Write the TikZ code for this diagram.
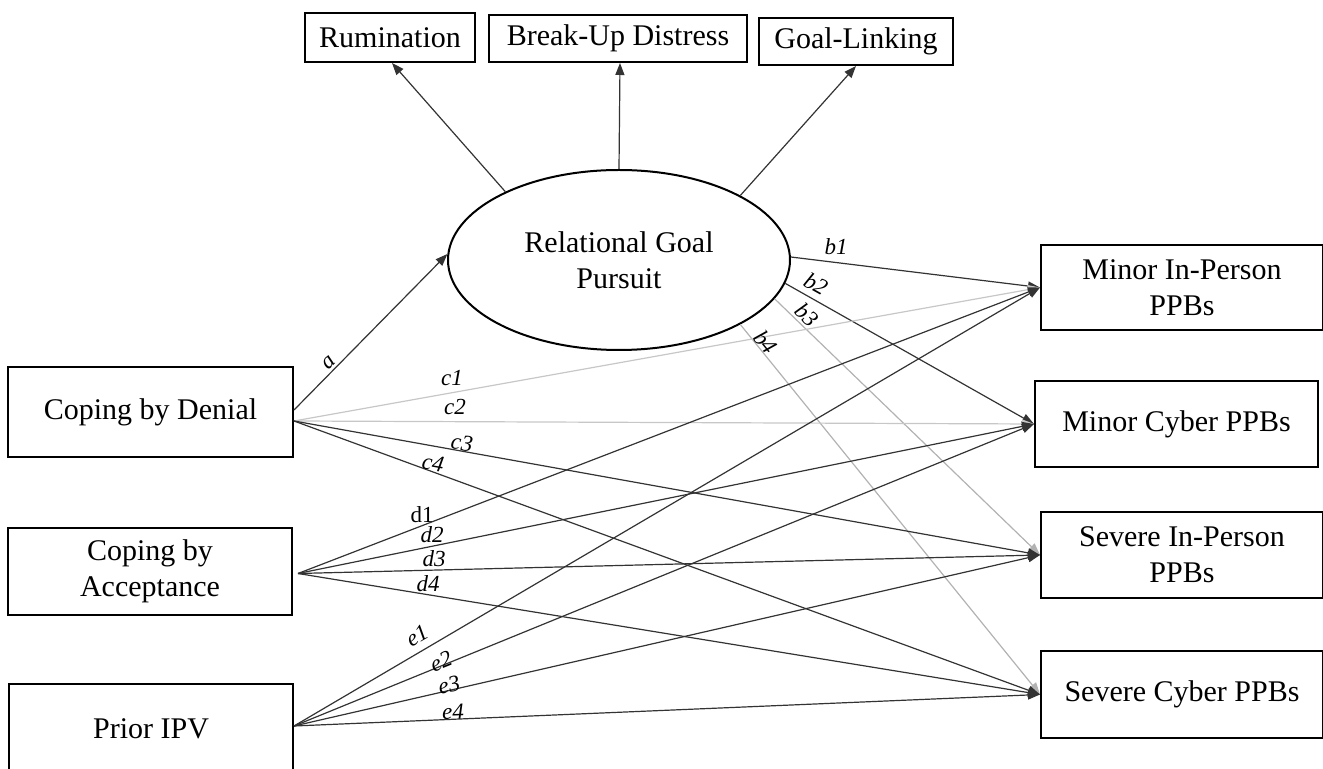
\documentclass[tikz,border=0pt]{standalone}
\usepackage{fontspec}
\setmainfont{Liberation Serif}
\usetikzlibrary{arrows.meta,shapes.geometric,calc}
\begin{document}
\begin{tikzpicture}[x=0.5pt,y=-0.5pt,
  box/.style={draw, line width=1pt, inner sep=0pt, align=center, font=\fontsize{15}{18}\selectfont},
  lbl/.style={font=\fontsize{11.5}{11.5}\selectfont\itshape, inner sep=0pt},
  lblu/.style={font=\fontsize{11.5}{11.5}\selectfont, inner sep=0pt},
  conn/.style={-{Triangle[length=6pt,width=4.5pt]}, line width=0.6pt, draw=black!80},
  gconn/.style={conn, draw=black!30},
  lconn/.style={conn, draw=black!22}]
\useasboundingbox (0,0) rectangle (1323,769);
% top indicator boxes
\node[box, minimum width=85pt, minimum height=24.5pt] (rum) at (390,37.5) {Rumination};
\node[box, minimum width=129pt, minimum height=23.5pt] (bud) at (618,38.5) {Break-Up Distress};
\node[box, minimum width=97pt, minimum height=23.5pt] (gl) at (856,41.5) {Goal-Linking};
% latent
\node[box, ellipse, minimum width=171pt, minimum height=90pt] (rgp) at (619,260) {Relational Goal\\Pursuit};
% predictors
\node[box, minimum width=142.5pt, minimum height=45pt] (den) at (150.5,412) {Coping by Denial};
\node[box, minimum width=142pt, minimum height=43.5pt] (acc) at (150,571.5) {Coping by\\Acceptance};
\node[box, minimum width=142pt, minimum height=45pt] (ipv) at (151,729) {Prior IPV};
% outcomes
\node[box, minimum width=141pt, minimum height=42.5pt] (mip) at (1182,287.5) {Minor In-Person\\PPBs};
\node[box, minimum width=141.5pt, minimum height=43pt] (mcy) at (1176.5,424) {Minor Cyber PPBs};
\node[box, minimum width=141pt, minimum height=43pt] (sip) at (1182,555) {Severe In-Person\\PPBs};
\node[box, minimum width=141pt, minimum height=43.5pt] (scy) at (1182,694.5) {Severe Cyber PPBs};
% measurement arrows
\draw[conn] (rgp.149) -- ($(rum.south)+(2,0)$);
\draw[conn] (rgp.north) -- ($(bud.south)+(2,0)$);
\draw[conn] (rgp.28) -- (gl.south);
% a path
\draw[conn] ($(den.east)+(0,-2)$) -- (rgp.178);
% b paths
\draw[conn] (rgp.1) -- (mip.west);
\draw[conn] (rgp.-8) -- (mcy.west);
\draw[gconn] (rgp.-14) -- (sip.west);
\draw[gconn] (rgp.-28) -- (scy.west);
% c paths
\draw[lconn] ($(den.east)+(0,9)$) -- (mip.west);
\draw[lconn] ($(den.east)+(0,9)$) -- (mcy.west);
\draw[conn] ($(den.east)+(0,9)$) -- (sip.west);
\draw[conn] ($(den.east)+(0,9)$) -- (scy.west);
% d paths
\draw[conn] ($(acc.east)+(5,2)$) -- (mip.west);
\draw[conn] ($(acc.east)+(5,2)$) -- (mcy.west);
\draw[conn] ($(acc.east)+(5,2)$) -- (sip.west);
\draw[conn] ($(acc.east)+(5,2)$) -- (scy.west);
% e paths
\draw[conn] ($(ipv.east)+(0,-3)$) -- (mip.west);
\draw[conn] ($(ipv.east)+(0,-3)$) -- (mcy.west);
\draw[conn] ($(ipv.east)+(0,-3)$) -- (sip.west);
\draw[conn] ($(ipv.east)+(0,-3)$) -- (scy.west);
% labels
\node[lbl, rotate=44] (la) at (329,363) {a};
\node[lbl] (lb1) at (836,247) {b1};
\node[lbl, rotate=-29] (lb2) at (816,284) {b2};
\node[lbl, rotate=-44] (lb3) at (807,315) {b3};
\node[lbl, rotate=-51] (lb4) at (766,342) {b4};
\node[lbl] (lc1) at (452,378) {c1};
\node[lbl] (lc2) at (455,407) {c2};
\node[lbl, rotate=-8] (lc3) at (462,443) {c3};
\node[lbl, rotate=-10] (lc4) at (433,463) {c4};
\node[lblu] (ld1) at (422,515) {d1};
\node[lbl] (ld2) at (432,535) {d2};
\node[lbl] (ld3) at (434,559) {d3};
\node[lbl] (ld4) at (428,584) {d4};
\node[lbl, rotate=30] (le1) at (417,636) {e1};
\node[lbl, rotate=22] (le2) at (441,661) {e2};
\node[lbl, rotate=13] (le3) at (449,685) {e3};
\node[lbl, rotate=2] (le4) at (453,712) {e4};
\end{tikzpicture}
\end{document}
